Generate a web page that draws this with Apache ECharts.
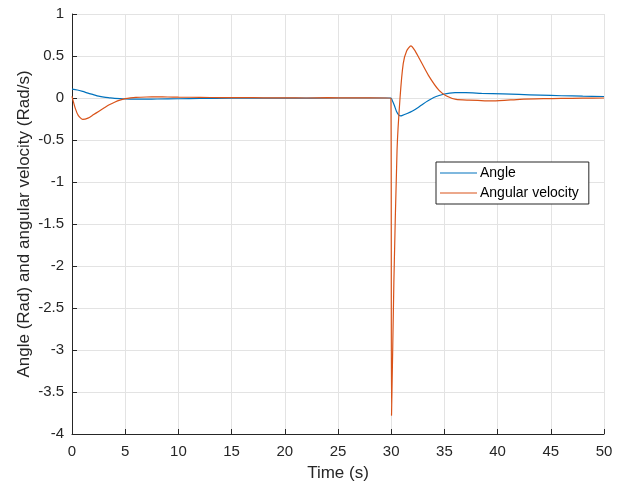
<!DOCTYPE html>
<html>
<head>
<meta charset="utf-8">
<script src="https://cdn.jsdelivr.net/npm/echarts@6/dist/echarts.min.js"></script>
<style>
  html, body { margin: 0; padding: 0; background: #fff; }
  #chart { width: 626px; height: 487px; }
</style>
</head>
<body>
<div id="chart"></div>
<script>
// valeurs
const tAngle = [0, 0.5, 1, 1.5, 2, 2.5, 3, 3.5, 4, 5, 6, 7, 8, 10, 12, 15, 20, 25, 29.97,
  30.1, 30.3, 30.5, 30.7, 30.9, 31.0, 31.5, 32, 32.5, 33, 33.5, 34, 34.5, 35, 35.5, 36, 37, 38.5, 40.5, 42, 44, 46, 48, 50];
const angle = [0.105, 0.095, 0.078, 0.058, 0.04, 0.022, 0.01, 0.002, -0.005, -0.012, -0.014, -0.013, -0.012, -0.009, -0.006, -0.003, -0.001, 0, 0,
  -0.03, -0.09, -0.16, -0.2, -0.212, -0.21, -0.185, -0.155, -0.115, -0.07, -0.03, 0.005, 0.03, 0.048, 0.058, 0.063, 0.063, 0.056, 0.048, 0.042, 0.034, 0.027, 0.022, 0.018];

const tVel = [0, 0.3, 0.6, 1.0, 1.5, 2, 2.5, 3, 3.5, 4, 4.5, 5, 5.5, 6, 7, 8, 9, 10, 12, 14, 16, 18, 20, 22, 24, 26, 28, 29.97,
  30.03, 30.25, 30.55, 30.83, 31.13, 31.45, 31.85, 32.2, 32.6, 33.5, 34.5, 35.2, 36.1, 37.3, 39.6, 42.1, 44.3, 46, 48, 50];
const vel = [0.02, -0.12, -0.21, -0.255, -0.24, -0.2, -0.16, -0.12, -0.08, -0.05, -0.025, -0.008, 0.002, 0.008, 0.012, 0.013, 0.012, 0.01, 0.008, 0.004, 0.006, 0.002, 0.003, 0.0, 0.004, 0.001, 0.003, 0,
  -3.78, -2.2, -0.62, 0, 0.41, 0.56, 0.62, 0.57, 0.48, 0.27, 0.09, 0.024, -0.016, -0.025, -0.035, -0.016, -0.008, -0.005, -0.002, 0];

const xTicks = { min: 0, max: 50, interval: 5 };
const yTicks = { min: -4, max: 1, interval: 0.5 };

const txt = '#262626';
const font = '"Liberation Sans", Arial, sans-serif';

const chart = echarts.init(document.getElementById('chart'));
chart.setOption({
  animation: false,
  textStyle: { fontFamily: font },
  grid: { left: 72, right: 22, top: 14, bottom: 53 },
  legend: {
    orient: 'vertical',
    left: 436, top: 162,
    icon: 'rect',
    itemWidth: 37, itemHeight: 1.2, itemGap: 4,
    padding: [3, 10, 3, 4],
    borderColor: txt, borderWidth: 1,
    backgroundColor: '#fff',
    textStyle: { color: '#000', fontSize: 14, lineHeight: 16, fontFamily: font, padding: [0, 0, 0, -2] },
    data: ['Angle', 'Angular velocity']
  },
  xAxis: {
    type: 'value',
    min: xTicks.min, max: xTicks.max, interval: xTicks.interval,
    name: 'Time (s)', nameLocation: 'middle', nameGap: 31, nameMoveOverlap: false,
    nameTextStyle: { color: txt, fontSize: 17, fontFamily: font },
    axisLine: { onZero: false, lineStyle: { color: txt, width: 1 } },
    axisTick: { inside: true, length: 5, lineStyle: { color: txt } },
    axisLabel: { color: txt, fontSize: 15, margin: 10 },
    splitLine: { show: true, lineStyle: { color: '#e3e3e3', width: 1 } }
  },
  yAxis: {
    type: 'value',
    min: yTicks.min, max: yTicks.max, interval: yTicks.interval,
    name: 'Angle (Rad) and angular velocity (Rad/s)', nameLocation: 'middle', nameGap: 39, nameMoveOverlap: false,
    nameTextStyle: { color: txt, fontSize: 17, fontFamily: font },
    axisLine: { show: true, onZero: false, lineStyle: { color: txt, width: 1 } },
    axisTick: { show: true, inside: true, length: 5, lineStyle: { color: txt } },
    axisLabel: { color: txt, fontSize: 15, margin: 8 },
    splitLine: { show: true, lineStyle: { color: '#e3e3e3', width: 1 } }
  },
  series: [
    {
      name: 'Angle', type: 'line', symbol: 'none', smooth: 0.3,
      lineStyle: { color: '#0072BD', width: 1.2 }, itemStyle: { color: '#0072BD' },
      data: tAngle.map((t, i) => [t, angle[i]])
    },
    {
      name: 'Angular velocity', type: 'line', symbol: 'none', smooth: 0.2,
      lineStyle: { color: '#D95319', width: 1.2 }, itemStyle: { color: '#D95319' },
      data: tVel.map((t, i) => [t, vel[i]])
    }
  ]
});
</script>
</body>
</html>
